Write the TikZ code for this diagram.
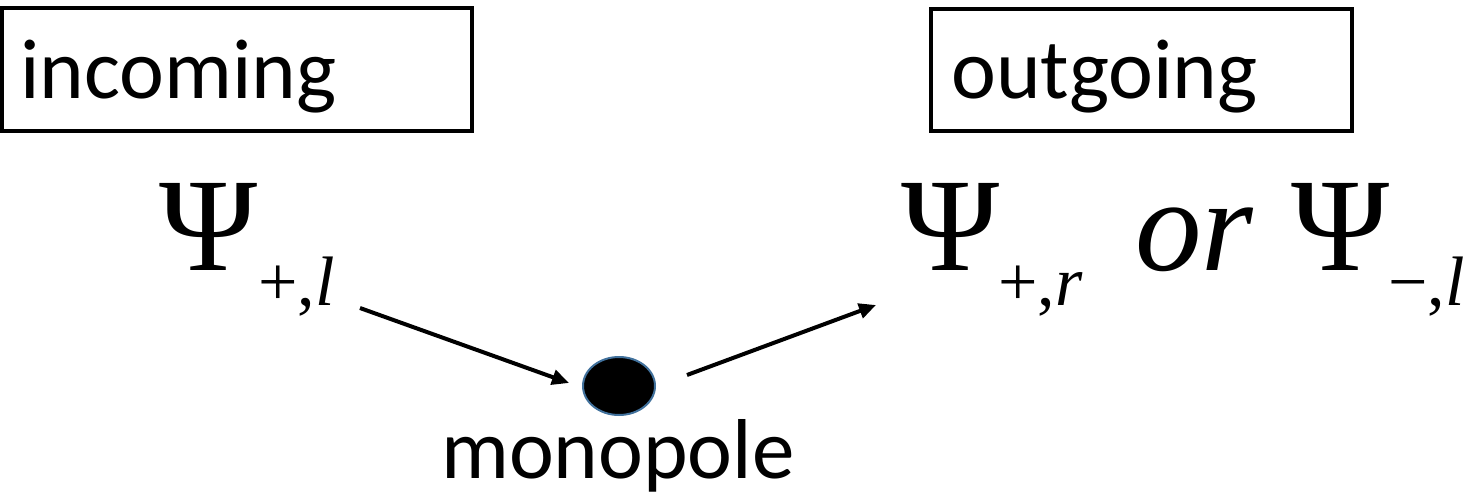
\documentclass[tikz,border=0pt]{standalone}
\usepackage{fontspec}
\setmainfont{Liberation Serif}
\newfontfamily\timesit{Liberation Serif Italic}
\newfontfamily\calibrilike{Carlito}
\usetikzlibrary{arrows.meta,shapes.geometric}
\definecolor{dotedge}{RGB}{65,113,156}
\begin{document}
\begin{tikzpicture}[x=1pt,y=-1pt,
  box/.style={draw, line width=4pt, inner sep=0pt},
  lbl/.style={font=\calibrilike\fontsize{85}{85}\selectfont, inner sep=0pt, anchor=base west},
  psi/.style={font=\fontsize{133}{133}\selectfont, inner sep=0pt, anchor=base west},
  sub/.style={font=\fontsize{70}{70}\selectfont, inner sep=0pt, anchor=base west},
  arr/.style={line width=4pt, -{Triangle[length=17pt,width=15pt]}}]
\useasboundingbox (0,0) rectangle (1474,493);
% boxes
\node[box, minimum width=470pt, minimum height=123pt] (inbox) at (236.5,69) {};
\node[lbl] (incoming) at (20,98) {incoming};
\node[box, minimum width=421.5pt, minimum height=121.5pt] (outbox) at (1141.25,69.75) {};
\node[lbl] (outgoing) at (951,98) {outgoing};
% formulas
\node[psi] (psiL) at (159,270) {Ψ};
\node[sub] (subL) at (258,305) {+,{\timesit l}};
\node[psi] (psiR1) at (901,270) {Ψ};
\node[sub] (subR1) at (998,305) {+,{\timesit r}};
\node[psi] (orR) at (1135,270) {\timesit or};
\node[psi] (psiR2) at (1291,270) {Ψ};
\node[sub] (subR2) at (1388,305) {−,{\timesit l}};
% monopole
\node[ellipse, fill=black, draw=dotedge, line width=2pt, minimum width=72pt, minimum height=58pt, inner sep=0pt] (dot) at (619,386) {};
\node[lbl] (monopole) at (441,478) {monopole};
% arrows
\coordinate (a1s) at (360,308);
\coordinate (a1e) at (569,383);
\coordinate (a2s) at (687,375);
\coordinate (a2e) at (876,305);
\draw[arr] (a1s) -- (a1e);
\draw[arr] (a2s) -- (a2e);
\end{tikzpicture}
\end{document}
